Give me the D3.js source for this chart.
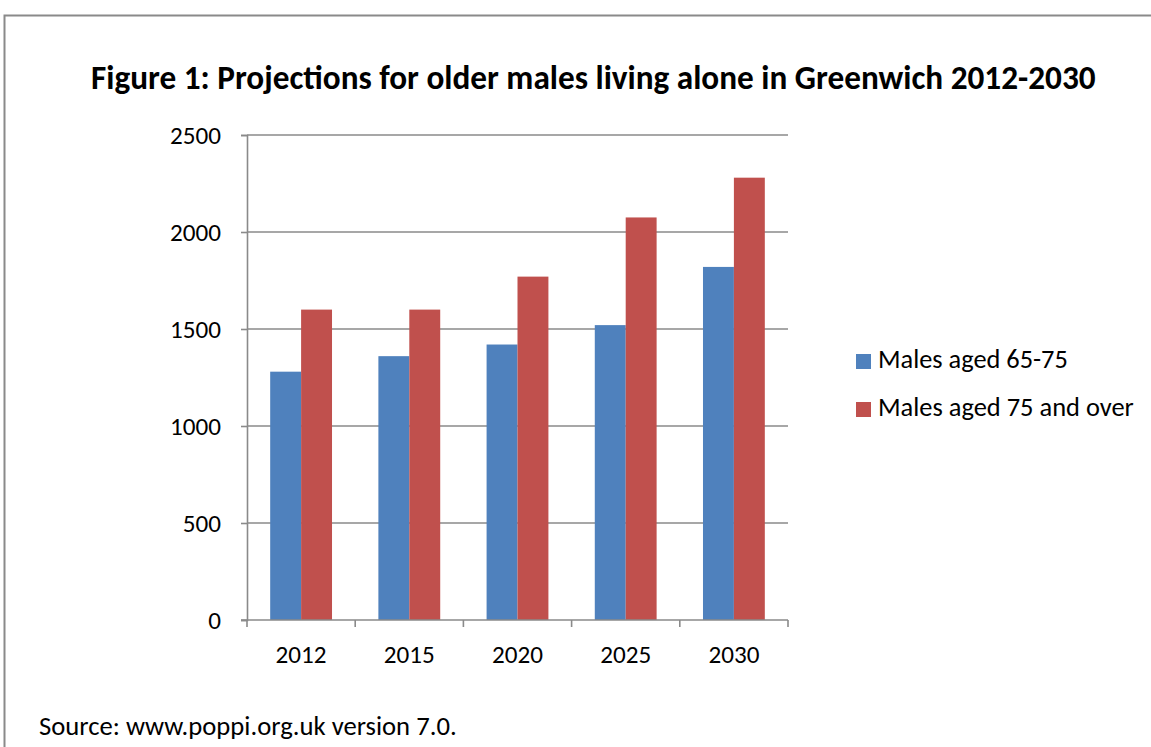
<!DOCTYPE html>
<html>
<head>
<meta charset="utf-8">
<script src="https://cdn.jsdelivr.net/npm/d3@7/dist/d3.min.js"></script>
<style>
  html, body { margin: 0; padding: 0; background: #fff; }
  svg { display: block; }
  text { font-family: Carlito, Calibri, Lato, "Noto Sans", sans-serif; fill: #000; }
</style>
</head>
<body>
<svg id="chart" width="1151" height="747"></svg>
<script>
// Projection data: older males living alone in Greenwich
const years = ["2012", "2015", "2020", "2025", "2030"];
const seriesNames = ["Males aged 65-75", "Males aged 75 and over"];
const aged65to75 = [1280, 1360, 1420, 1520, 1820];
const aged75plus = [1600, 1600, 1770, 2075, 2280];
const yTicks = [0, 500, 1000, 1500, 2000, 2500];
const colors = ["#4F81BD", "#C0504D"];

const titleText = "Figure 1: Projections for older males living alone in Greenwich 2012-2030";
const sourceText = "Source: www.poppi.org.uk version 7.0.";

const svg = d3.select("#chart");
const W = 1151, H = 747;
const axisGrey = "#8a8a8a";

// outer chart frame (right and bottom edges run off the page)
svg.append("path")
  .attr("d", `M4.5,${H + 2} V15.5 H${W + 2}`)
  .attr("fill", "none")
  .attr("stroke", axisGrey)
  .attr("stroke-width", 2);

// scale a text's font size so the rendered string spans the wanted width
function fitWidth(sel, target, base) {
  sel.attr("font-size", base);
  const w = sel.node().getComputedTextLength();
  const size = base * target / w;
  sel.attr("font-size", size);
  return size;
}

svg.append("text")
  .attr("x", 91).attr("y", 89)
  .attr("font-weight", "bold")
  .text(titleText)
  .call(s => fitWidth(s, 1005, 30));

const plot = { left: 247, right: 788, top: 135, bottom: 620 };

const x0 = d3.scaleBand().domain(years).range([plot.left, plot.right]).paddingInner(0).paddingOuter(0);
// 150% gap between clusters: two bars take 2 of 3.5 bar widths in each category
const x1 = d3.scaleBand().domain([0, 1])
  .range([0, x0.bandwidth()]).paddingInner(0).paddingOuter(0.75);
const y = d3.scaleLinear().domain([0, 2500]).range([plot.bottom, plot.top]);

// horizontal gridlines
svg.append("g")
  .selectAll("line")
  .data(yTicks.filter(d => d > 0))
  .join("line")
  .attr("x1", plot.left).attr("x2", plot.right)
  .attr("y1", d => y(d)).attr("y2", d => y(d))
  .attr("stroke", axisGrey).attr("stroke-width", 1.6);

// bars
const groups = svg.append("g")
  .selectAll("g")
  .data(years.map((yr, i) => ({ yr, vals: [aged65to75[i], aged75plus[i]] })))
  .join("g")
  .attr("transform", d => `translate(${x0(d.yr)},0)`);

groups.selectAll("rect")
  .data(d => d.vals.map((v, k) => ({ v, k })))
  .join("rect")
  .attr("x", d => x1(d.k))
  .attr("width", x1.bandwidth())
  .attr("y", d => y(d.v))
  .attr("height", d => y(0) - y(d.v))
  .attr("fill", d => colors[d.k]);

// tick label size chosen so a four-digit year is about 51px wide
const probe = svg.append("text").text("2012");
const tickSize = fitWidth(probe, 51, 24);
probe.remove();

// y axis
const yAxis = d3.axisLeft(y).tickValues(yTicks).tickSize(6).tickPadding(20).tickFormat(d3.format("d"));
const gy = svg.append("g")
  .attr("transform", `translate(${plot.left},0)`)
  .call(yAxis);
gy.select(".domain").attr("stroke", axisGrey).attr("stroke-width", 1.6);
gy.selectAll(".tick line").attr("stroke", axisGrey).attr("stroke-width", 1.6);
gy.selectAll(".tick text")
  .attr("font-size", tickSize)
  .attr("font-family", null)
  .attr("fill", "#000");
gy.attr("font-family", null);

// x axis with ticks at category boundaries
const gx = svg.append("g")
  .attr("transform", `translate(0,${plot.bottom})`);
gx.append("line")
  .attr("x1", plot.left - 6).attr("x2", plot.right)
  .attr("stroke", axisGrey).attr("stroke-width", 1.6);
const bounds = years.map(yr => x0(yr)).concat([plot.right]);
gx.selectAll("line.tk")
  .data(bounds)
  .join("line")
  .attr("class", "tk")
  .attr("x1", d => d).attr("x2", d => d)
  .attr("y1", 0).attr("y2", 7)
  .attr("stroke", axisGrey).attr("stroke-width", 1.6);
gx.selectAll("text")
  .data(years)
  .join("text")
  .attr("x", d => x0(d) + x0.bandwidth() / 2)
  .attr("y", 43)
  .attr("text-anchor", "middle")
  .attr("font-size", tickSize)
  .text(d => d);

// legend
const legendWidths = [190, 256];
const legend = svg.append("g")
  .selectAll("g")
  .data(seriesNames)
  .join("g")
  .attr("transform", (d, i) => `translate(856,${354 + i * 48})`);
legend.append("rect")
  .attr("width", 15).attr("height", 15)
  .attr("fill", (d, i) => colors[i]);
legend.append("text")
  .attr("x", 22).attr("y", 14)
  .text(d => d)
  .each(function (d, i) { fitWidth(d3.select(this), legendWidths[i], 24); });

// source note
svg.append("text")
  .attr("x", 39).attr("y", 735)
  .text(sourceText)
  .call(s => fitWidth(s, 418, 24));
</script>
</body>
</html>
